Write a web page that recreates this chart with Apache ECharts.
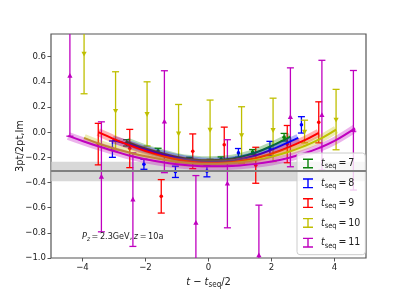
<!DOCTYPE html>
<html><head><meta charset="utf-8">
<script src="https://cdn.jsdelivr.net/npm/echarts@6/dist/echarts.min.js"></script>
<style>html,body{margin:0;padding:0;background:#fff}#c{width:407px;height:291px}</style>
</head><body><div id="c"></div>
<script>
// ---- data ----
const seqNames = ['7', '8', '9', '10', '11'];
const colors = ['#0a820a', '#0000ff', '#ff0000', '#bfbf00', '#bf00bf'];

const x7 = [-2.6, -1.6, -0.6, 0.4, 1.4, 2.4];
const y7 = [-0.085, -0.15, -0.22, -0.215, -0.158, -0.04];
const e7 = [0.025, 0.022, 0.02, 0.018, 0.02, 0.03];

const x8 = [-3.05, -2.05, -1.05, -0.05, 0.95, 1.95, 2.95];
const y8 = [-0.135, -0.255, -0.315, -0.31, -0.165, -0.13, 0.058];
const e8 = [0.065, 0.04, 0.045, 0.045, 0.035, 0.057, 0.065];

const x9 = [-3.5, -2.5, -1.5, -0.5, 0.5, 1.5, 2.5, 3.5];
const y9 = [-0.095, -0.13, -0.51, -0.152, -0.1, -0.263, -0.095, 0.078];
const e9 = [0.165, 0.152, 0.133, 0.138, 0.14, 0.143, 0.148, 0.163];

const x10 = [-3.95, -2.95, -1.95, -0.95, 0.05, 1.05, 2.05, 3.05, 4.05];
const y10 = [0.625, 0.17, 0.145, -0.01, 0.02, -0.022, 0.018, 0.005, 0.1];
const e10 = [0.32, 0.31, 0.255, 0.23, 0.235, 0.224, 0.252, 0.09, 0.24];

const x11 = [-4.4, -3.4, -2.4, -1.4, -0.4, 0.6, 1.6, 2.6, 3.6, 4.6];
const y11 = [0.446, -0.355, -0.536, 0.083, -0.722, -0.41, -0.98, 0.118, 0.135, 0.015];
const e11 = [0.478, 0.437, 0.372, 0.405, 0.377, 0.35, 0.4, 0.393, 0.436, 0.475];

// fit curves
const fx7 = [-2.6, -2.0, -1.5, -1.0, -0.5, 0, 0.5, 1.0, 1.5, 2.0, 2.6];
const fy7 = [-0.075, -0.13, -0.165, -0.198, -0.216, -0.224, -0.218, -0.198, -0.162, -0.11, -0.035];
const fx8 = [-3.05, -2.5, -2.0, -1.5, -1.0, -0.5, 0, 0.5, 1.0, 1.5, 2.0, 2.5, 2.85];
const fy8 = [-0.06, -0.1, -0.14, -0.175, -0.205, -0.225, -0.235, -0.232, -0.215, -0.185, -0.14, -0.085, -0.045];
const fx9 = [-3.5, -3.0, -2.5, -2.0, -1.5, -1.0, -0.5, 0, 0.5, 1.0, 1.5, 2.0, 2.5, 3.0, 3.5];
const fy9 = [0.0, -0.055, -0.105, -0.15, -0.188, -0.218, -0.238, -0.245, -0.243, -0.23, -0.207, -0.172, -0.125, -0.07, -0.005];
const fx10 = [-3.95, -3.5, -3.0, -2.5, -2.0, -1.5, -1.0, -0.5, 0, 0.5, 1.0, 1.5, 2.0, 2.5, 3.0, 3.5, 4.05];
const fy10 = [-0.045, -0.09, -0.13, -0.163, -0.192, -0.216, -0.235, -0.247, -0.252, -0.25, -0.24, -0.222, -0.195, -0.16, -0.115, -0.06, 0.02];
const fx11 = [-4.45, -4.0, -3.5, -3.0, -2.5, -2.0, -1.5, -1.0, -0.5, 0, 0.5, 1.0, 1.5, 2.0, 2.5, 3.0, 3.5, 4.0, 4.65];
const fy11 = [-0.03, -0.07, -0.112, -0.15, -0.187, -0.215, -0.238, -0.255, -0.266, -0.271, -0.27, -0.264, -0.252, -0.233, -0.207, -0.172, -0.127, -0.07, 0.03];

// horizontal result band
const bandCenter = -0.311;
const bandLow = -0.39;
const bandHigh = -0.236;

const xTicks = [-4, -2, 0, 2, 4];
const yTicks = [-1.0, -0.8, -0.6, -0.4, -0.2, 0.0, 0.2, 0.4, 0.6];

// ---- build ----
const FONT = "'DejaVu Sans Condensed', 'Liberation Sans Narrow', 'DejaVu Sans', sans-serif";
const pts = [[x7, y7, e7], [x8, y8, e8], [x9, y9, e9], [x10, y10, e10], [x11, y11, e11]];
const fits = [[fx7, fy7], [fx8, fy8], [fx9, fy9], [fx10, fy10], [fx11, fy11]];
const markers = ['dot', 'dot', 'dot', 'down', 'up'];
const minus = s => String(s).replace('-', '\u2212');

function makeErr(k) {
  const mk = markers[k];
  return function (params, api) {
    const x = api.value(0), y = api.value(1), e = api.value(2);
    const t = api.coord([x, y + e]), b = api.coord([x, y - e]), c = api.coord([x, y]);
    const col = colors[k], cap = 3.5;
    const st = { stroke: col, lineWidth: 1.3 };
    const ch = [
      { type: 'line', shape: { x1: t[0], y1: t[1], x2: b[0], y2: b[1] }, style: st },
      { type: 'line', shape: { x1: t[0] - cap, y1: t[1], x2: t[0] + cap, y2: t[1] }, style: st },
      { type: 'line', shape: { x1: b[0] - cap, y1: b[1], x2: b[0] + cap, y2: b[1] }, style: st }
    ];
    if (mk === 'dot') ch.push({ type: 'circle', shape: { cx: c[0], cy: c[1], r: 1.8 }, style: { fill: col } });
    else if (mk === 'up') ch.push({ type: 'polygon', shape: { points: [[c[0], c[1] - 3], [c[0] - 2.6, c[1] + 1.8], [c[0] + 2.6, c[1] + 1.8]] }, style: { fill: col } });
    else ch.push({ type: 'polygon', shape: { points: [[c[0], c[1] + 3], [c[0] - 2.6, c[1] - 1.8], [c[0] + 2.6, c[1] - 1.8]] }, style: { fill: col } });
    return { type: 'group', children: ch };
  };
}

const series = [{
  type: 'line', data: [], silent: true,
  markArea: { silent: true, itemStyle: { color: 'rgba(200,200,200,0.7)' }, data: [[{ yAxis: bandLow }, { yAxis: bandHigh }]] },
  markLine: { silent: true, symbol: 'none', label: { show: false }, lineStyle: { color: '#808080', width: 2, type: 'solid' }, data: [{ yAxis: bandCenter }] }
}];

for (let k = 0; k < 5; k++) {
  const [xs, ys, es] = pts[k];
  series.push({
    name: 't' + seqNames[k], type: 'custom', clip: true, z: 3,
    itemStyle: { color: colors[k] },
    renderItem: makeErr(k),
    data: xs.map((x, i) => [x, ys[i], es[i]])
  });
  const [fx, fy] = fits[k];
  const fd = fx.map((x, i) => [x, fy[i]]);
  series.push({
    type: 'line', smooth: 0.4, symbol: 'none', silent: true, z: 3,
    lineStyle: { color: colors[k], width: 8, opacity: 0.3, cap: 'butt' }, data: fd
  });
  series.push({
    type: 'line', smooth: 0.4, symbol: 'none', silent: true, z: 3,
    lineStyle: { color: colors[k], width: 2 }, data: fd
  });
}

const iconPath = 'path://M0,0H10V1.4H5.7V8.6H10V10H0V8.6H4.3V1.4H0Z';
const option = {
  animation: false,
  grid: { left: 51, right: 41, top: 34, bottom: 33, outerBoundsMode: 'none', containLabel: false, show: true, borderColor: '#555', borderWidth: 1.2, backgroundColor: 'transparent' },
  xAxis: {
    type: 'value', min: -5, max: 5,
    axisLine: { show: false, onZero: false }, splitLine: { show: false },
    axisTick: { show: true, customValues: xTicks, length: 3.5, lineStyle: { color: '#555' } },
    axisLabel: { customValues: xTicks, formatter: v => minus(v), fontSize: 9.5, color: '#222', fontFamily: FONT, margin: 5 },
    name: '{i|t} \u2212 {i|t}{s|seq}/2', nameLocation: 'middle', nameGap: 17, nameMoveOverlap: false,
    nameTextStyle: { fontSize: 11, color: '#222', fontFamily: FONT,
      rich: { i: { fontSize: 11, fontStyle: 'italic', fontFamily: FONT, color: '#222' }, s: { fontSize: 8, fontFamily: FONT, color: '#222', verticalAlign: 'bottom', padding: [6, 0, 0, 0] } } }
  },
  yAxis: {
    type: 'value', min: -1.0, max: 0.78,
    axisLine: { show: false, onZero: false }, splitLine: { show: false },
    axisTick: { show: true, customValues: yTicks, length: 3.5, lineStyle: { color: '#555' } },
    axisLabel: { customValues: yTicks, formatter: v => minus(Number(v).toFixed(1)), fontSize: 9.5, color: '#222', fontFamily: FONT, margin: 5 },
    name: '3pt/2pt,Im', nameLocation: 'middle', nameGap: 25, nameRotate: 90, nameMoveOverlap: false,
    nameTextStyle: { fontSize: 11, color: '#222', fontFamily: FONT }
  },
  legend: {
    orient: 'vertical', left: 297, top: 153, padding: [5, 5, 5, 6], itemGap: 7.3,
    itemWidth: 10, itemHeight: 12,
    backgroundColor: 'rgba(255,255,255,0.8)', borderColor: '#ccc', borderWidth: 1, borderRadius: 3,
    data: seqNames.map((n, k) => ({ name: 't' + n, icon: iconPath, itemStyle: { color: colors[k] } })),
    formatter: name => '{i|t}{s|seq}\u2009=\u2009' + name.slice(1),
    textStyle: { fontSize: 10.5, color: '#222', fontFamily: FONT, padding: [0, 0, 0, 3],
      rich: { i: { fontSize: 10.5, fontStyle: 'italic', fontFamily: FONT, color: '#222' }, s: { fontSize: 7.5, fontFamily: FONT, color: '#222', padding: [6, 0, 0, 0] } } }
  },
  graphic: [{
    type: 'text', left: 82, top: 232, z: 10,
    style: {
      text: '{i|P}{s|z}\u2009=\u20092.3GeV,\u2009{i|z}\u2009=\u200910a', fontSize: 9, fontFamily: FONT, fill: '#222',
      rich: { i: { fontSize: 9, fontStyle: 'italic', fontFamily: FONT, fill: '#222' }, s: { fontSize: 6.5, fontStyle: 'italic', fontFamily: FONT, fill: '#222', padding: [5, 0, 0, 0] } }
    }
  }],
  series: series
};
const chart = echarts.init(document.getElementById('c'), null, { renderer: 'canvas' });
chart.setOption(option);
</script></body></html>
